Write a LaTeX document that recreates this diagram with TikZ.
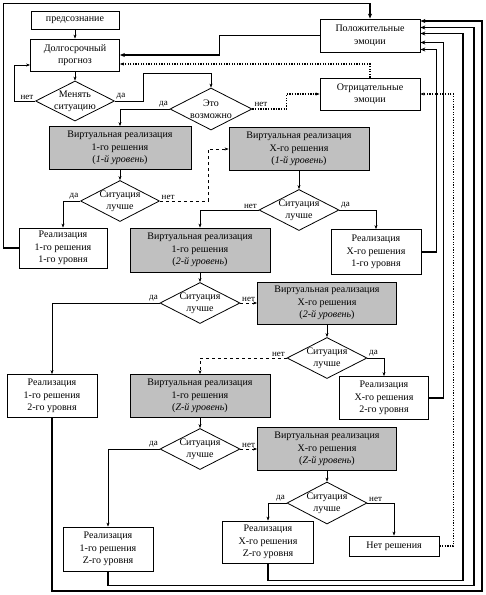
\documentclass[tikz,border=0pt]{standalone}
\usepackage{fontspec}
\setmainfont{Liberation Serif}
\usetikzlibrary{shapes.geometric,arrows.meta}
\definecolor{boxgray}{RGB}{192,192,192}
\tikzset{
  box/.style={draw,line width=0.8pt,fill=white,align=center,inner sep=1pt,font=\fontsize{10}{12.5}\selectfont},
  vbox/.style={box,fill=boxgray},
  cond/.style={draw,diamond,line width=0.8pt,align=center,inner sep=-6pt,font=\fontsize{10}{12}\selectfont},
  ans/.style={font=\fontsize{9}{10}\selectfont,inner sep=1.5pt},
  link/.style={line width=0.6pt,-{Stealth[length=4pt,width=3pt]}},
  ret/.style={line width=1.3pt,-{Stealth[length=5pt,width=4pt]}},
  dots/.style={link,line width=1.3pt,dash pattern=on 1.3pt off 1.3pt},
}

\begin{document}
\begin{tikzpicture}[x=1pt,y=-1pt]
\useasboundingbox (0,0) rectangle (486,595);
\node[box,minimum width=88pt,minimum height=18pt] (pre) at (75,20) {предсознание};
\node[box,minimum width=89pt,minimum height=32pt] (prog) at (75,55) {Долгосрочный\\прогноз};
\node[cond,minimum width=79pt,minimum height=40pt] (chg) at (75,101) {Менять\\ситуацию};
\node[cond,minimum width=82pt,minimum height=42pt] (poss) at (211,109) {Это\\возможно};
\node[box,minimum width=100pt,minimum height=33pt] (pos) at (370,35.5) {Положительные\\эмоции};
\node[box,minimum width=100pt,minimum height=32pt] (neg) at (370,94) {Отрицательные\\эмоции};

\node[vbox,minimum width=142pt,minimum height=43pt] (v11) at (120,148) {Виртуальная реализация\\1-го решения\\(\textit{1-й уровень})};
\node[vbox,minimum width=140pt,minimum height=43pt] (vx1) at (299,149) {Виртуальная реализация\\X-го решения\\(\textit{1-й уровень})};
\node[cond,minimum width=79pt,minimum height=41pt] (d11) at (120,201) {Ситуация\\лучше};
\node[box,minimum width=88pt,minimum height=40pt] (r11) at (63,248) {Реализация\\1-го решения\\1-го уровня};
\node[cond,minimum width=80pt,minimum height=41pt] (dx1) at (299,210) {Ситуация\\лучше};
\node[box,minimum width=90pt,minimum height=45pt] (rx1) at (376,252) {Реализация\\X-го решения\\1-го уровня};
\node[vbox,minimum width=140pt,minimum height=44pt] (v12) at (200,250) {Виртуальная реализация\\1-го решения\\(\textit{2-й уровень})};

\node[cond,minimum width=80pt,minimum height=41pt] (d12) at (200,303) {Ситуация\\лучше};
\node[vbox,minimum width=139pt,minimum height=42pt] (vx2) at (327,303) {Виртуальная реализация\\X-го решения\\(\textit{2-й уровень})};
\node[cond,minimum width=80pt,minimum height=41pt] (dx2) at (327,358) {Ситуация\\лучше};
\node[box,minimum width=90pt,minimum height=43pt] (r12) at (52,396) {Реализация\\1-го решения\\2-го уровня};
\node[vbox,minimum width=140pt,minimum height=43pt] (v1z) at (200,396) {Виртуальная реализация\\1-го решения\\(\textit{Z-й уровень})};
\node[box,minimum width=89pt,minimum height=43pt] (rx2) at (384,398) {Реализация\\X-го решения\\2-го уровня};

\node[cond,minimum width=80pt,minimum height=41pt] (d1z) at (200,449) {Ситуация\\лучше};
\node[vbox,minimum width=139pt,minimum height=43pt] (vxz) at (327,449) {Виртуальная реализация\\X-го решения\\(\textit{Z-й уровень})};
\node[cond,minimum width=80pt,minimum height=42pt] (dxz) at (327,503) {Ситуация\\лучше};
\node[box,minimum width=90pt,minimum height=44pt] (r1z) at (108,549) {Реализация\\1-го решения\\Z-го уровня};
\node[box,minimum width=91pt,minimum height=42pt] (rxz) at (268,542) {Реализация\\X-го решения\\Z-го уровня};
\node[box,minimum width=90pt,minimum height=20pt] (none) at (394,546) {Нет решения};

\draw[link] (pre) -- (prog);
\draw[link] (prog) -- (chg);
\draw[link] (chg.west) node[ans,above left]{нет} -- ++(-21,0) |- ([yshift=-10pt]prog.west);
\draw[link] (chg.east) node[ans,above right]{да} -- ++(28,0) -- ++(0,-28) -| (poss.north);
\draw[link] (poss.west) node[ans,above left]{да} -| (v11.north);
\draw[dots] (poss.east) node[ans,above right]{нет} -- ++(34,0) |- (neg.west);
\draw[ret] (pos.west) -- ++(-100,0) |- (prog.east);
\draw[dots] (neg.north) |- ([yshift=-9pt]prog.east);

\draw[link] (v11) -- (d11);
\draw[link] (d11.west) node[ans,above left]{да} -| (r11.north);
\draw[link,dashed] (d11.east) node[ans,above right]{нет} -- ++(48,0) |- (vx1.west);
\draw[link] (vx1) -- (dx1);
\draw[link] (dx1.west) node[ans,above left]{нет} -| (v12.north);
\draw[link] (dx1.east) node[ans,above right]{да} -| (rx1.north);
\draw[link] (v12) -- (d12);
\draw[link] (d12.west) node[ans,above left]{да} -| (r12.north);
\draw[link,dashed] (d12.east) node[ans,above right]{нет} -- (vx2.west);
\draw[link] (vx2) -- (dx2);
\draw[link,dashed] (dx2.west) node[ans,above left]{нет} -| (v1z.north);
\draw[link] (dx2.east) node[ans,above right]{да} -| (rx2.north);
\draw[link] (v1z) -- (d1z);
\draw[link] (d1z.west) node[ans,above left]{да} -| (r1z.north);
\draw[link,dashed] (d1z.east) node[ans,above right]{нет} -- (vxz.west);
\draw[link] (vxz) -- (dxz);
\draw[link] (dxz.west) node[ans,above left]{да} -| (rxz.north);
\draw[link] (dxz.east) node[ans,above right]{нет} -| (none.north);

\draw[ret] (r11.west) -- ++(-15,0) |- ([yshift=15pt]pos.north) -- (pos.north);
\draw[ret] (rx1.east) -- ++(15,0) |- ([yshift=-14pt]pos.east);
\draw[ret] (rx2.east) -- ++(14.5,0) |- ([yshift=-7pt]pos.east);
\draw[ret] (rxz.south) -- ++(0,17) -- ++(195,0) |- ([yshift=2pt]pos.east);
\draw[ret] (r1z.south) -- ++(0,14) -- ++(366,0) |- ([yshift=8pt]pos.east);
\draw[ret] (r12.south) -- ++(0,173) -- ++(430,0) |- ([yshift=14.5pt]pos.east);
\draw[dots] (none.east) -- ++(14,0) |- (neg.east);
\end{tikzpicture}
\end{document}
